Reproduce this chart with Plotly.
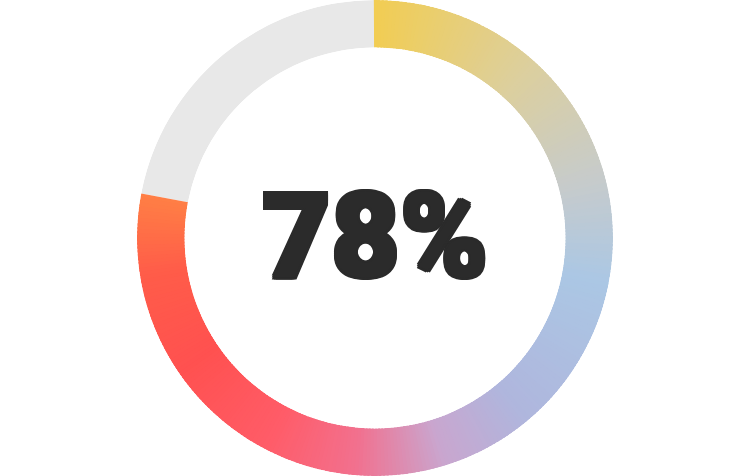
import plotly.graph_objects as go

# data
percent = 78
label_text = "78%"

# gradient stops along the filled arc (fraction of arc, colour)
grad_stops = [
    (0.00, "#f2cd52"),
    (0.15, "#dccf9e"),
    (0.27, "#c6cbcc"),
    (0.36, "#abc7e4"),
    (0.50, "#afb6dd"),
    (0.58, "#c9a6cf"),
    (0.66, "#f2708e"),
    (0.74, "#ff5c68"),
    (0.84, "#ff5150"),
    (0.93, "#ff5c49"),
    (1.00, "#ff7f45"),
]
track_color = "#e8e8e8"
n_steps = 300


def hex_to_rgb(h):
    h = h.lstrip("#")
    return tuple(int(h[i:i + 2], 16) for i in (0, 2, 4))


def color_at(t):
    for (t0, c0), (t1, c1) in zip(grad_stops[:-1], grad_stops[1:]):
        if t <= t1:
            f = (t - t0) / (t1 - t0) if t1 > t0 else 0
            a, b = hex_to_rgb(c0), hex_to_rgb(c1)
            return "rgb(%d,%d,%d)" % tuple(round(a[i] + (b[i] - a[i]) * f) for i in range(3))
    return grad_stops[-1][1]


span = 360 * percent / 100
step = span / n_steps
# wedges overlap a little so no hairline gaps show; last one is kept flush with the end
thetas = [step * (i + 0.5) for i in range(n_steps - 1)] + [span - step / 2]
widths = [step * 1.6] * (n_steps - 1) + [step]
colors = [color_at((i + 0.5) / n_steps) for i in range(n_steps)]

fig = go.Figure()

# the grey remainder
fig.add_trace(go.Barpolar(
    r=[1], theta=[span + (360 - span) / 2], width=[360 - span],
    marker=dict(color=track_color, line=dict(width=0)),
    hoverinfo="skip",
))

# filled arc, drawn as thin wedges to fake the gradient
fig.add_trace(go.Barpolar(
    r=[1] * n_steps, theta=thetas, width=widths,
    marker=dict(color=colors, line=dict(width=0)),
    hovertemplate=label_text + "<extra></extra>",
))

# heavy label; the text-shadow box thickens the strokes a bit
ink = "#2b2b2b"
thick = ", ".join("%gpx %gpx 0 %s" % (dx, dy, ink)
                  for dx, dy in [(2, 0), (-2, 0), (0, 2), (0, -2), (2, 2), (-2, 2), (2, -2), (-2, -2)])
fig.add_annotation(
    x=0.5, y=0.5, xref="paper", yref="paper", yshift=2,
    text=label_text, showarrow=False,
    font=dict(family="Roboto", size=119, color=ink, weight=900, shadow=thick),
)

fig.update_layout(
    width=750, height=476,
    margin=dict(l=0, r=0, t=0, b=0),
    paper_bgcolor="white",
    showlegend=False,
    polar=dict(
        hole=0.8,
        bgcolor="white",
        bargap=0,
        domain=dict(x=[0, 1], y=[0, 1]),
        radialaxis=dict(range=[0, 1], visible=False),
        angularaxis=dict(rotation=90, direction="clockwise", visible=False),
    ),
)

fig.write_html("out.html", config={"displayModeBar": False},
               post_script="document.body.style.margin='0';")
